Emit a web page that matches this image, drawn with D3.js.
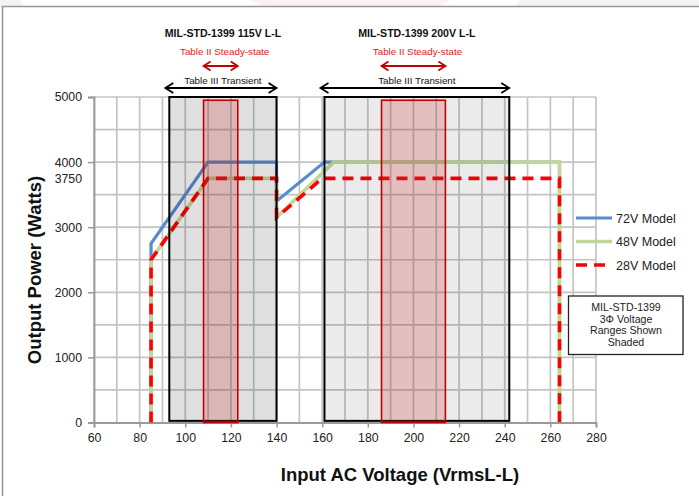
<!DOCTYPE html>
<html><head><meta charset="utf-8">
<script src="https://cdn.jsdelivr.net/npm/d3@7"></script>
<style>
html,body{margin:0;padding:0;background:#fff;}
svg{display:block;font-family:"Liberation Sans",Arial,sans-serif;}
</style></head>
<body>
<svg id="chart" width="699" height="496"></svg>
<script>
// ---- data ----
const xTicks = [60, 80, 100, 120, 140, 160, 180, 200, 220, 240, 260, 280];
const yTicks = [0, 1000, 2000, 3000, 3750, 4000, 5000];
const seriesNames = ["72V Model", "48V Model", "28V Model"];
const voltage72 = [85, 85, 110, 140, 140, 161, 264, 264];
const power72   = [0, 2750, 4000, 4000, 3400, 4000, 4000, 0];
const voltage48 = [85, 85, 110, 140, 140, 165, 264, 264];
const power48   = [0, 2500, 3750, 3750, 3150, 4000, 4000, 0];
const voltage28 = [85, 85, 110, 140, 140, 160, 264, 264];
const power28   = [0, 2500, 3750, 3750, 3150, 3750, 3750, 0];
const standardNames = ["MIL-STD-1399 115V L-L", "MIL-STD-1399 200V L-L"];
const transientLo = [93, 161];
const transientHi = [140, 242];
const steadyLo = [108, 186];
const steadyHi = [123, 214];
const transientPowerLo = 25, transientPowerHi = 5000;
const steadyPowerLo = 0, steadyPowerHi = 4950;
const steadyLabel = "Table II Steady-state";
const transientLabel = "Table III Transient";
const noteLines = ["MIL-STD-1399", "3\u03A6 Voltage", "Ranges  Shown", "Shaded"];
const xTitle = "Input AC Voltage (VrmsL-L)";
const yTitle = "Output Power (Watts)";

// ---- drawing ----
const svg = d3.select("#chart");
const x = d3.scaleLinear().domain([60, 280]).range([94, 596]);
const y = d3.scaleLinear().domain([0, 5000]).range([422.5, 97]);

// faint background above frame
svg.append("rect").attr("x",0).attr("y",0).attr("width",699).attr("height",7).attr("fill","#f3f3f3");
svg.append("polygon").attr("points","20,0 520,0 515,7 25,7").attr("fill","#ffffff");
svg.append("polygon").attr("points","250,0 450,0 440,7 262,7").attr("fill","#fff1f1");
// frame
svg.append("path").attr("d","M2.5,496 V6.5 H699").attr("fill","none").attr("stroke","#979797").attr("stroke-width",1.6);

// grid
const grid = svg.append("g");
grid.selectAll("line.v").data(d3.range(60, 281, 10)).join("line")
  .attr("x1", d => x(d)).attr("x2", d => x(d)).attr("y1", y(0)).attr("y2", y(5000))
  .attr("stroke", "#c4c4c4").attr("stroke-width", 1.7);
grid.selectAll("line.h").data(d3.range(500, 5001, 500)).join("line")
  .attr("x1", x(60)).attr("x2", x(280)).attr("y1", d => y(d)).attr("y2", d => y(d))
  .attr("stroke", "#c4c4c4").attr("stroke-width", 1.7);

// axes
const yAxis = svg.append("g").attr("transform", `translate(${x(60)},0)`)
  .call(d3.axisLeft(y).tickValues(yTicks).tickSize(6).tickPadding(6).tickFormat(d3.format("d")));
yAxis.select(".domain").attr("stroke", "#9a9a9a").attr("stroke-width", 1.8);
yAxis.selectAll(".tick line").attr("stroke", "#9a9a9a").attr("stroke-width", 1.5)
  .attr("opacity", d => d === 3750 ? 0 : 1);
yAxis.selectAll(".tick text").attr("font-size", 12.3).attr("fill", "#222")
  .attr("font-family", "Liberation Sans, Arial, sans-serif");

const xAxis = svg.append("g").attr("transform", `translate(0,${y(0)})`)
  .call(d3.axisBottom(x).tickValues(xTicks).tickSize(5).tickPadding(6));
xAxis.select(".domain").attr("stroke", "#9a9a9a").attr("stroke-width", 1.8);
xAxis.selectAll(".tick line").attr("stroke", "#9a9a9a").attr("stroke-width", 1.5);
xAxis.selectAll(".tick text").attr("font-size", 12.3).attr("fill", "#222")
  .attr("font-family", "Liberation Sans, Arial, sans-serif");

// series lines
const line = d3.line().x(d => x(d[0])).y(d => y(d[1]));
const series = [
  {name: seriesNames[0], pts: d3.zip(voltage72, power72), color: "#5a8ccf", w: 3.2, dash: null},
  {name: seriesNames[1], pts: d3.zip(voltage48, power48), color: "#c2d69b", w: 3.6, dash: null},
  {name: seriesNames[2], pts: d3.zip(voltage28, power28), color: "#ff0000", w: 3.6, dash: "11,7"}
];
svg.append("g").selectAll("path").data(series).join("path")
  .attr("d", d => line(d.pts)).attr("fill", "none")
  .attr("stroke", d => d.color).attr("stroke-width", d => d.w)
  .attr("stroke-dasharray", d => d.dash).attr("stroke-linejoin", "miter");

// shaded ranges
const transientShade = [0.12, 0.08];
const boxes = svg.append("g");
boxes.selectAll("rect.t").data(d3.range(transientLo.length)).join("rect")
  .attr("x", i => x(transientLo[i])).attr("width", i => x(transientHi[i]) - x(transientLo[i]))
  .attr("y", y(transientPowerHi)).attr("height", y(transientPowerLo) - y(transientPowerHi))
  .attr("fill", i => `rgba(0,0,0,${transientShade[i]})`).attr("stroke", "#000").attr("stroke-width", 2);
boxes.selectAll("rect.s").data(d3.range(steadyLo.length)).join("rect")
  .attr("x", i => x(steadyLo[i])).attr("width", i => x(steadyHi[i]) - x(steadyLo[i]))
  .attr("y", y(steadyPowerHi)).attr("height", y(steadyPowerLo) - y(steadyPowerHi))
  .attr("fill", "rgba(200,50,50,0.24)").attr("stroke", "#c00000").attr("stroke-width", 1.6);

// annotations above
function dblArrow(g, x1, x2, yy, color, w, hl, hw) {
  g.append("line").attr("x1", x1 + 1).attr("x2", x2 - 1).attr("y1", yy).attr("y2", yy)
    .attr("stroke", color).attr("stroke-width", w);
  g.append("path").attr("d", `M${x1 + hl},${yy - hw} L${x1},${yy} L${x1 + hl},${yy + hw}`)
    .attr("fill", "none").attr("stroke", color).attr("stroke-width", w).attr("stroke-linejoin","miter");
  g.append("path").attr("d", `M${x2 - hl},${yy - hw} L${x2},${yy} L${x2 - hl},${yy + hw}`)
    .attr("fill", "none").attr("stroke", color).attr("stroke-width", w).attr("stroke-linejoin","miter");
}
const ann = svg.append("g");
d3.range(standardNames.length).forEach(i => {
  const tc = (x(transientLo[i]) + x(transientHi[i])) / 2;
  const sc = (x(steadyLo[i]) + x(steadyHi[i])) / 2;
  ann.append("text").attr("x", tc).attr("y", 37).attr("text-anchor", "middle")
    .attr("font-size", 10.6).attr("font-weight", "bold").attr("fill", "#111").text(standardNames[i]);
  ann.append("text").attr("x", sc + 4).attr("y", 55).attr("text-anchor", "middle")
    .attr("font-size", 9.8).attr("fill", "#e02020").text(steadyLabel);
  dblArrow(ann, x(steadyLo[i]), x(steadyHi[i]), 66, "#c00000", 1.8, 7, 4.5);
  ann.append("text").attr("x", tc).attr("y", 83.5).attr("text-anchor", "middle")
    .attr("font-size", 9.8).attr("fill", "#111").text(transientLabel);
  dblArrow(ann, x(transientLo[i]) - 4, x(transientHi[i]), 88, "#000", 1.8, 8, 5);
});

// legend
const leg = svg.append("g");
series.forEach((s, i) => {
  const ly = 218 + i * 23.5;
  leg.append("line").attr("x1", 576).attr("x2", 612).attr("y1", ly).attr("y2", ly)
    .attr("stroke", s.color).attr("stroke-width", s.w).attr("stroke-dasharray", s.dash);
  leg.append("text").attr("x", 616).attr("y", ly + 4.5).attr("font-size", 12.5).attr("fill", "#222").text(s.name);
});

// note box
svg.append("rect").attr("x", 568.5).attr("y", 296).attr("width", 114.5).attr("height", 58.5)
  .attr("fill", "#fff").attr("stroke", "#222").attr("stroke-width", 1.3);
svg.append("g").selectAll("text").data(noteLines).join("text")
  .attr("x", 626).attr("y", (d, i) => 311 + i * 11.7).attr("text-anchor", "middle")
  .attr("font-size", 10.6).attr("fill", "#222").text(d => d);

// axis titles
svg.append("text").attr("x", 400).attr("y", 481).attr("text-anchor", "middle")
  .attr("font-size", 18.5).attr("font-weight", "bold").attr("fill", "#111").text(xTitle);
svg.append("text").attr("transform", "translate(41,270) rotate(-90)").attr("text-anchor", "middle")
  .attr("font-size", 18.5).attr("font-weight", "bold").attr("fill", "#111").text(yTitle);
</script>
</body></html>
